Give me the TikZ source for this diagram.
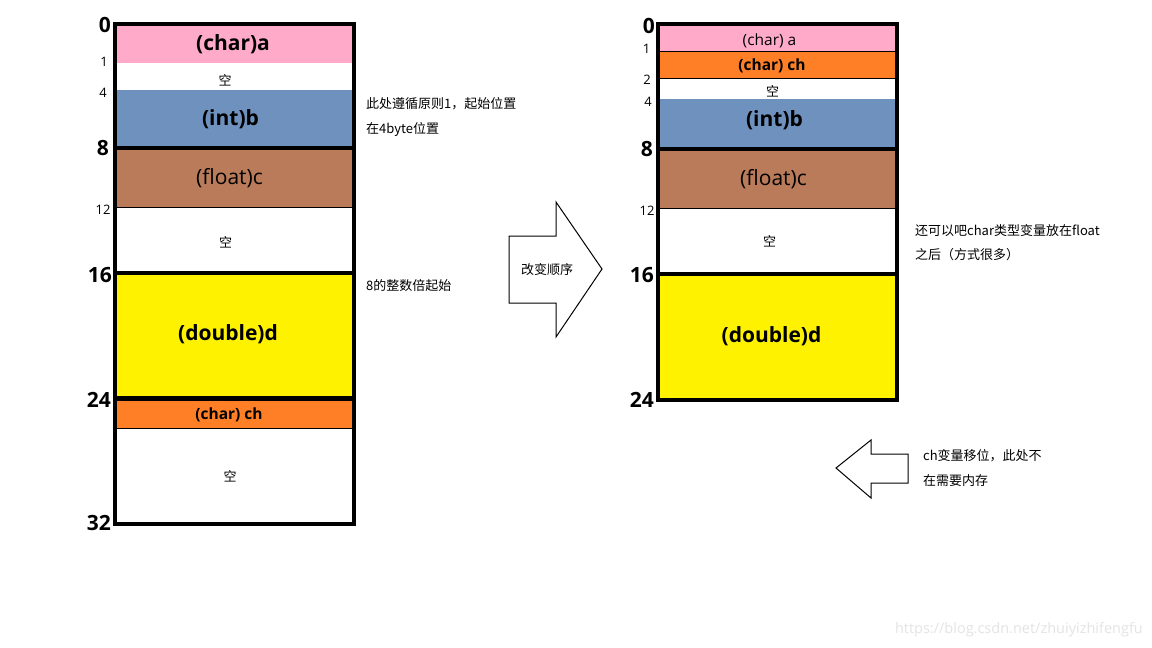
\documentclass[tikz,border=0pt]{standalone}
\usepackage{fontspec}
\setmainfont{Open Sans}
\newfontfamily\cjk{Noto Sans CJK SC}
\definecolor{pinkc}{HTML}{FFAAC9}
\definecolor{bluec}{HTML}{6F91BE}
\definecolor{brownc}{HTML}{B97B59}
\definecolor{yellowc}{HTML}{FFF200}
\definecolor{orangec}{HTML}{FF7F27}
\definecolor{markc}{HTML}{E4E4E4}
\begin{document}
\begin{tikzpicture}[x=1pt,y=-1pt,inner sep=0pt,
    big/.style={font=\fontsize{21}{21}\selectfont\bfseries,anchor=east},
    small/.style={font=\fontsize{13}{13}\selectfont},
    kong/.style={font=\cjk\fontsize{13}{13}\selectfont},
    note/.style={font=\cjk\fontsize{13}{13}\selectfont,anchor=west},
    varname/.style={font=\fontsize{21}{21}\selectfont},
    varbold/.style={font=\fontsize{21}{21}\selectfont\bfseries},
    varsub/.style={font=\fontsize{15.5}{15.5}\selectfont},
    varsubbold/.style={font=\fontsize{15.5}{15.5}\selectfont\bfseries},
    heavy/.style={line width=4pt},
    hair/.style={line width=1pt}]
  \useasboundingbox (0,0) rectangle (1152,648);
  \fill[white] (0,0) rectangle (1152,648);

  % left: original order
  \fill[pinkc] (115,24) rectangle (353.5,63);
  \fill[bluec] (115,90) rectangle (353.5,148);
  \fill[brownc] (115,148) rectangle (353.5,207);
  \fill[yellowc] (115,273) rectangle (353.5,398.5);
  \fill[orangec] (115,398.5) rectangle (353.5,428);
  \draw[hair] (115,207) -- (353.5,207);
  \draw[hair] (115,428) -- (353.5,428);
  \draw[heavy] (115,24) rectangle (353.5,524);
  \draw[heavy] (115,148) -- (353.5,148);
  \draw[heavy] (115,273) -- (353.5,273);
  \draw[line width=5pt] (115,398.5) -- (353.5,398.5);

  \node[varbold] (a) at (233,44) {(char)a};
  \node[kong] (k1) at (225,80) {空};
  \node[varbold] (b) at (230.5,119) {(int)b};
  \node[varname] (c) at (229.5,178.5) {(float)c};
  \node[kong] (k2) at (225.5,242) {空};
  \node[varbold] (d) at (228,334.5) {(double)d};
  \node[varsubbold] (ch) at (229,415) {(char) ch};
  \node[kong] (k3) at (230,476) {空};

  \node[big] (l0) at (111,25) {0};
  \node[small] (l1) at (104,62) {1};
  \node[small] (l4) at (103,93) {4};
  \node[big] (l8) at (109,148) {8};
  \node[small] (l12) at (103,210) {12};
  \node[big] (l16) at (112,275) {16};
  \node[big] (l24) at (111,399.5) {24};
  \node[big] (l32) at (111,523) {32};

  \node[note] (n1) at (366,104) {此处遵循原则1，起始位置};
  \node[note] (n2) at (366,130) {在4byte位置};
  \node[note] (n3) at (366,286) {8的整数倍起始};

  % arrow: change order
  \draw[hair] (509,236) -- (556,236) -- (556,202) -- (602,269) -- (556,337)
    -- (556,303) -- (509,303) -- cycle;
  \node[kong] (go) at (547,270) {改变顺序};

  % right: new order
  \fill[pinkc] (658,24) rectangle (897,51);
  \fill[orangec] (658,51) rectangle (897,78);
  \fill[bluec] (658,99) rectangle (897,149);
  \fill[brownc] (658,149) rectangle (897,208);
  \fill[yellowc] (658,274) rectangle (897,399.5);
  \draw[hair] (658,51) -- (897,51);
  \draw[hair] (658,78) -- (897,78);
  \draw[hair] (658,208) -- (897,208);
  \draw[heavy] (658,24) rectangle (897,399.5);
  \draw[heavy] (658,149) -- (897,149);
  \draw[heavy] (658,274) -- (897,274);

  \node[varsub] (a2) at (769.5,40.5) {(char) a};
  \node[varsubbold] (ch2) at (772,65.5) {(char) ch};
  \node[kong] (k4) at (772.5,91.5) {空};
  \node[varbold] (b2) at (774.5,120) {(int)b};
  \node[varname] (c2) at (773.5,179) {(float)c};
  \node[kong] (k5) at (769.5,241.5) {空};
  \node[varbold] (d2) at (771.5,336) {(double)d};

  \node[big] (r0) at (655,26) {0};
  \node[small] (r1) at (646.5,48.5) {1};
  \node[small] (r2) at (647,79.5) {2};
  \node[small] (r4) at (648,102) {4};
  \node[big] (r8) at (653,149) {8};
  \node[small] (r12) at (647,210.5) {12};
  \node[big] (r16) at (654,275) {16};
  \node[big] (r24) at (654,400) {24};

  \node[note] (n4) at (915,231) {还可以吧char类型变量放在float};
  \node[note] (n5) at (915,255) {之后（方式很多）};

  % arrow: ch moved
  \draw[hair] (836,468) -- (871,440) -- (871,454) -- (908,454) -- (908,483)
    -- (871,483) -- (871,498) -- cycle;
  \node[note] (n6) at (923,456) {ch变量移位，此处不};
  \node[note] (n7) at (923,481) {在需要内存};

  \node[font=\fontsize{14.5}{14.5}\selectfont,text=markc,anchor=east] (url)
    at (1143,630) {https://blog.csdn.net/zhuiyizhifengfu};
\end{tikzpicture}
\end{document}
